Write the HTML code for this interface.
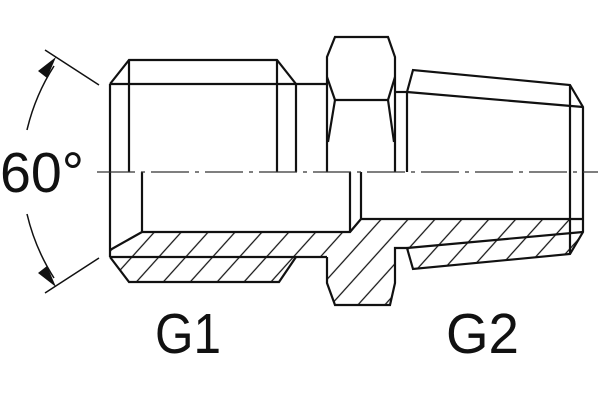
<!DOCTYPE html>
<html><head><meta charset="utf-8"><style>
html,body{margin:0;padding:0;background:#fff;width:600px;height:400px;overflow:hidden}
svg{display:block}
</style></head><body>
<svg width="600" height="400" viewBox="0 0 600 400" xmlns="http://www.w3.org/2000/svg">
<defs>
<pattern id="h" patternUnits="userSpaceOnUse" width="20" height="20" patternTransform="rotate(-48)">
<line x1="0" y1="10" x2="20" y2="10" stroke="#111" stroke-width="1.2"/>
</pattern>
</defs>
<path d="M110,250 L142,232 L350,232 L361,219 L583,219 L583,232 L570,254 L413,269 L407,248 L395,248 L395,283 L390,305 L335,305 L327,283 L327,257 L296,257 L279,282 L129,282 L110,257 Z" fill="url(#h)" stroke="none"/>
<g fill="none" stroke="#111" stroke-width="2.2" stroke-linejoin="miter">
<path d="M110,84 L129,60 L277,60 L296,84"/>
<line x1="110" y1="84" x2="327" y2="84"/>
<line x1="110" y1="84" x2="110" y2="257"/>
<line x1="129" y1="60" x2="129" y2="172"/>
<line x1="277" y1="60" x2="277" y2="172"/>
<line x1="296" y1="84" x2="296" y2="172"/>
<line x1="142" y1="172" x2="142" y2="232"/>
<path d="M110,250 L142,232 L350,232 L361,219 L583,219"/>
<line x1="110" y1="257" x2="327" y2="257"/>
<path d="M110,257 L129,282 L279,282 L296,257"/>
<line x1="350" y1="172" x2="350" y2="232"/>
<line x1="361" y1="172" x2="361" y2="219"/>
<!-- hex -->
<path d="M327,172 L327,57 L335,37 L388,37 L395,57 L395,172"/>
<line x1="327" y1="77" x2="335" y2="100"/>
<line x1="395" y1="77" x2="388" y2="100"/>
<line x1="335" y1="100" x2="388" y2="100"/>
<path d="M335,100 L328,142 M388,100 L394,142"/>
<line x1="395" y1="92" x2="407" y2="92"/>
<path d="M327,257 L327,283 L335,305 L390,305 L395,283 L395,248 L407,248"/>
<!-- G2 -->
<path d="M407,92 L413,70 L570,85 L583,107 L583,232 L570,254 L413,269 L407,248"/>
<line x1="407" y1="92" x2="583" y2="107"/>
<line x1="407" y1="248" x2="583" y2="232"/>
<line x1="407" y1="92" x2="407" y2="172"/>
<line x1="570" y1="85" x2="570" y2="254"/>
</g>
<line x1="97" y1="172" x2="598" y2="172" stroke="#333" stroke-width="1.3" stroke-dasharray="38,6,4,6"/>
<g stroke="#111" stroke-width="1.5" fill="none">
<line x1="45" y1="50" x2="99" y2="85"/>
<line x1="45" y1="293" x2="99" y2="258"/>
<path d="M27,130 A207,207 0 0 1 54,66"/>
<path d="M27,214 A207,207 0 0 0 54,278"/>
</g>
<polygon points="56,57 47,78 38,71" fill="#111"/>
<polygon points="56,287 47,266 38,273" fill="#111"/>
<g font-family="Liberation Sans, sans-serif" fill="#111" font-size="57">
<text x="0" y="192" textLength="84" lengthAdjust="spacingAndGlyphs">60°</text>
<text x="155" y="353" textLength="66" lengthAdjust="spacingAndGlyphs">G1</text>
<text x="446" y="353" textLength="73" lengthAdjust="spacingAndGlyphs">G2</text>
</g>
</svg>
</body></html>
